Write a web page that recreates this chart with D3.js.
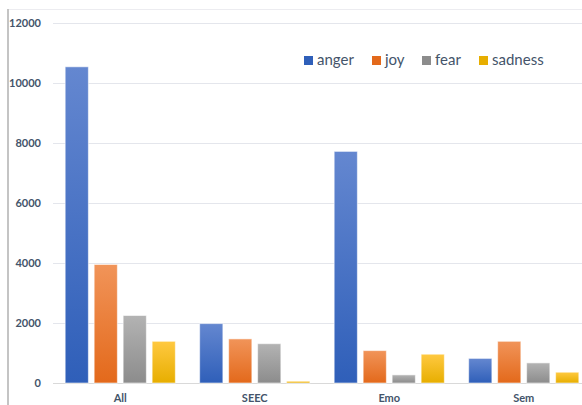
<!DOCTYPE html>
<html lang="en">
<head>
  <script type="text/javascript" src="https://d3js.org/d3.v7.min.js"></script>
  <style>
    body { margin: 0; background: #fff; }
    svg { display: block; font-family: Lato, "Open Sans", sans-serif; }
  </style>
</head>
<body>
  <svg class="chart"></svg>
<script type="text/javascript">

  // data
  const groups = ['All', 'SEEC', 'Emo', 'Sem'];
  const emotions = ['anger', 'joy', 'fear', 'sadness'];
  const anger = [10540, 1980, 7720, 820];
  const joy = [3950, 1470, 1080, 1390];
  const fear = [2250, 1310, 270, 670];
  const sadness = [1390, 60, 960, 360];
  const yTicks = [0, 2000, 4000, 6000, 8000, 10000, 12000];

  const series = { anger, joy, fear, sadness };
  const colors = {
    anger: ['#6487d0', '#2f5fb9'],
    joy: ['#f19459', '#e3691b'],
    fear: ['#b3b3b3', '#8c8c8c'],
    sadness: ['#ffc941', '#e7ae00']
  };

  const W = 582, H = 405;
  const margin = { top: 23, left: 53, bottom: 22, right: -9 };
  const width = W - margin.left - margin.right;
  const height = H - margin.top - margin.bottom;

  const root = d3.select('svg.chart')
    .attr('width', W)
    .attr('height', H);

  // gradients for bars
  const defs = root.append('defs');
  emotions.forEach(k => {
    const g = defs.append('linearGradient')
      .attr('id', 'grad-' + k)
      .attr('x1', 0).attr('y1', 0).attr('x2', 0).attr('y2', 1);
    g.append('stop').attr('offset', '0%').attr('stop-color', colors[k][0]);
    g.append('stop').attr('offset', '100%').attr('stop-color', colors[k][1]);
  });

  // chart frame
  root.append('line')
    .attr('x1', 8).attr('x2', W).attr('y1', 9.5).attr('y2', 9.5)
    .attr('stroke', '#ececf0');
  root.append('line')
    .attr('x1', 8).attr('x2', 8).attr('y1', 9).attr('y2', H)
    .attr('stroke', '#c4c4c4').attr('stroke-width', 2);

  const svg = root.append('g')
    .attr('transform', `translate(${margin.left},${margin.top})`);

  const yScale = d3.scaleLinear()
    .domain([0, 12000])
    .range([height, 0]);

  const x0 = d3.scaleBand()
    .domain(groups)
    .range([0, width]);

  const x1 = d3.scaleBand()
    .domain(emotions)
    .range([0, x0.bandwidth()])
    .paddingInner(0.2)
    .paddingOuter(0.42);

  // grid lines
  const yAxis = d3.axisLeft(yScale)
    .tickValues(yTicks)
    .tickSize(-width)
    .tickPadding(12)
    .tickFormat(d3.format('d'));

  const yg = svg.append('g').attr('class', 'y-axis').call(yAxis);
  yg.select('.domain').remove();
  yg.selectAll('.tick line')
    .attr('stroke', d => d === 0 ? '#d9d9d9' : '#e4e6ec');
  yg.selectAll('.tick text')
    .attr('fill', '#44546a')
    .attr('font-size', 11)
    .attr('font-weight', 'bold')
    .attr('font-family', 'Lato, sans-serif');

  // bars
  const grp = svg.selectAll('.grp')
    .data(groups)
    .join('g')
    .attr('class', 'grp')
    .attr('transform', d => `translate(${x0(d)},0)`);

  grp.selectAll('rect')
    .data((g, i) => emotions.map(k => ({ key: k, value: series[k][i] })))
    .join('rect')
    .attr('x', d => x1(d.key))
    .attr('y', d => yScale(d.value))
    .attr('width', x1.bandwidth())
    .attr('height', d => height - yScale(d.value))
    .attr('fill', d => `url(#grad-${d.key})`)
    .attr('stroke', 'rgba(255,255,255,0.55)')
    .attr('stroke-width', 1);

  // x labels
  svg.selectAll('.x-label')
    .data(groups)
    .join('text')
    .attr('class', 'x-label')
    .attr('x', d => x0(d) + x0.bandwidth() / 2)
    .attr('y', height + 19)
    .attr('text-anchor', 'middle')
    .attr('fill', '#44546a')
    .attr('font-size', 11)
    .attr('font-weight', 'bold')
    .text(d => d);

  // legend
  const legendX = [304, 372, 422, 479];
  const legend = root.append('g').attr('class', 'legend');
  const items = legend.selectAll('g')
    .data(emotions)
    .join('g')
    .attr('transform', (d, i) => `translate(${legendX[i]},56)`);
  items.append('rect')
    .attr('width', 9).attr('height', 9)
    .attr('fill', d => colors[d][1]);
  items.append('text')
    .attr('x', 13)
    .attr('y', 9)
    .attr('fill', '#44546a')
    .attr('font-size', 15)
    .text(d => d);

</script>
</body>
</html>
